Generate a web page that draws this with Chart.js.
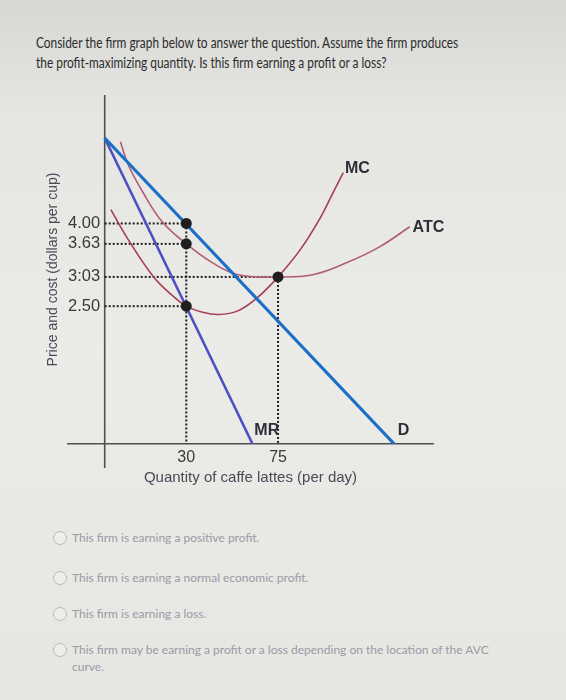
<!DOCTYPE html>
<html>
<head>
<meta charset="utf-8">
<script src="https://cdn.jsdelivr.net/npm/chart.js@4/dist/chart.umd.min.js"></script>
<style>
	html, body { margin: 0; padding: 0; }
	body {
		width: 566px; height: 700px; position: relative; overflow: hidden;
		background: linear-gradient(180deg, #d7d7d4 0%, #e5e5e2 16%, #ebebe8 50%, #e6e6e2 100%);
		font-family: Lato, "Open Sans", sans-serif;
	}
	#question {
		position: absolute; left: 36px; top: 33px; white-space: nowrap;
		font-size: 14.5px; line-height: 19.5px; color: #2b2b2b;
		transform: scaleX(0.82); transform-origin: 0 0;
	}
	#chart-box { position: absolute; left: 0; top: 0; width: 566px; height: 500px; }
	.opt {
		position: absolute; left: 53px; font-size: 12px; line-height: 17px; color: #9a9aa6;
		padding-left: 19px;
	}
	.opt::before {
		content: ""; position: absolute; left: 0; top: 2px; width: 12px; height: 12px;
		border: 1.5px solid #b9b9b9; border-radius: 50%; background: #eeeeec;
	}
</style>
</head>
<body>
<div id="question">Consider the firm graph below to answer the question. Assume the firm produces<br>the profit-maximizing quantity. Is this firm earning a profit or a loss?</div>
<div id="chart-box"><canvas id="firm"></canvas></div>
<div class="opt" style="top:529px">This firm is earning a positive profit.</div>
<div class="opt" style="top:569px">This firm is earning a normal economic profit.</div>
<div class="opt" style="top:605px">This firm is earning a loss.</div>
<div class="opt" style="top:641px; width:418px">This firm may be earning a profit or a loss depending on the location of the AVC curve.</div>
<script>
// values (quantity in cups per day, price in dollars)
const priceTicks = [4.0, 3.63, 3.03, 2.5];
const priceLabels = ["4.00", "3.63", "3:03", "2.50"];
const qtyTicks = [30, 75];
const qtyLabels = ["30", "75"];

const demandQ = [-10, 132];
const demandP = [5.55, 0];
const mrQ = [-10, 62.5];
const mrP = [5.55, 0];

const mcQ = [-7, 2, 14, 23, 30, 38, 46, 55, 65, 75, 86, 96, 102, 107];
const mcP = [4.25, 3.68, 3.03, 2.7, 2.5, 2.39, 2.35, 2.41, 2.66, 3.03, 3.53, 4.12, 4.56, 4.92];
const atcQ = [-2.3, 1.6, 8.5, 18.2, 30, 42.7, 55.4, 75, 92, 108.8, 125, 139.6];
const atcP = [5.48, 5.06, 4.58, 4.03, 3.63, 3.29, 3.07, 3.03, 3.07, 3.29, 3.58, 3.94];

const dotQ = [30, 30, 30, 75];
const dotP = [4.0, 3.63, 2.5, 3.03];

const curveNames = ["MC", "ATC", "MR", "D"];
const nameQ = [107.8, 141, 63.4, 133.7];
const nameP = [4.99, 3.92, 0.24, 0.24];

const yAxisQ = -10;
const qMin = -28, qMax = 151, pMin = 0, pMax = 6.33, pAxisBottom = -0.435;

const pts = (qs, ps) => qs.map((q, i) => ({ x: q, y: ps[i] }));

const dotted = { borderColor: "#1f1f1f", borderWidth: 2, borderDash: [2, 2], pointRadius: 0, showLine: true };

// dotted guides from the y-axis to each point and from the points down to the x-axis
const guides = [];
dotQ.forEach((q, i) => {
	guides.push({ ...dotted, data: [{ x: yAxisQ, y: dotP[i] }, { x: q, y: dotP[i] }] });
});
[0, 3].forEach((i) => {
	guides.push({ ...dotted, data: [{ x: dotQ[i], y: dotP[i] }, { x: dotQ[i], y: 0 }] });
});

const curveLabels = {
	id: "curveLabels",
	afterDatasetsDraw(chart) {
		const { ctx, scales } = chart;
		ctx.save();
		ctx.font = "bold 16px 'Liberation Sans', Arial, sans-serif";
		ctx.fillStyle = "#2e2e38";
		ctx.textBaseline = "middle";
		ctx.textAlign = "left";
		curveNames.forEach((n, i) => {
			ctx.fillText(n, scales.x.getPixelForValue(nameQ[i]), scales.y.getPixelForValue(nameP[i]));
		});
		ctx.restore();
	},
};

new Chart(document.getElementById("firm"), {
	type: "scatter",
	data: {
		datasets: [
			{ data: pts(dotQ, dotP), pointRadius: 5.5, pointBackgroundColor: "#1e1e1e", pointBorderWidth: 0, showLine: false },
			{ data: pts(demandQ, demandP), borderColor: "#1b6fc6", borderWidth: 3.2, pointRadius: 0, showLine: true },
			{ data: pts(mrQ, mrP), borderColor: "#4d50c2", borderWidth: 2.6, pointRadius: 0, showLine: true },
			{ data: pts(mcQ, mcP), borderColor: "#a43f52", borderWidth: 1.6, pointRadius: 0, showLine: true, tension: 0.4 },
			{ data: pts(atcQ, atcP), borderColor: "#b25c74", borderWidth: 1.6, pointRadius: 0, showLine: true, tension: 0.4 },
			...guides,
			{
				data: [{ x: yAxisQ, y: pMax }, { x: yAxisQ, y: pAxisBottom }],
				borderColor: "#505050", borderWidth: 1.6, pointRadius: 0, showLine: true, clip: false,
			},
		],
	},
	options: {
		responsive: true,
		maintainAspectRatio: false,
		animation: false,
		events: [],
		layout: { padding: { left: 41, right: 133, top: 95, bottom: 9 } },
		plugins: { legend: { display: false }, tooltip: { enabled: false } },
		scales: {
			x: {
				type: "linear",
				position: "bottom",
				min: qMin,
				max: qMax,
				afterFit: (s) => { s.height = 47; },
				afterBuildTicks: (s) => { s.ticks = qtyTicks.map((v) => ({ value: v })); },
				ticks: {
					padding: 4,
					color: "#3a3a3a",
					font: { family: "'Liberation Sans', Arial", size: 16 },
					callback: (v) => qtyLabels[qtyTicks.indexOf(v)],
				},
				grid: { display: false, drawTicks: false },
				border: { display: true, color: "#505050", width: 1.6 },
				title: {
					display: true,
					text: "Quantity of caffe lattes (per day)",
					color: "#4a4a58",
					font: { family: "'Liberation Sans', Arial", size: 15 },
					padding: { top: 4, bottom: 4 },
				},
			},
			y: {
				type: "linear",
				position: "left",
				min: pMin,
				max: pMax,
				afterFit: (s) => { s.width = 27; },
				afterBuildTicks: (s) => { s.ticks = priceTicks.map((v) => ({ value: v })); },
				ticks: {
					mirror: true,
					padding: 0,
					color: "#3a3a3a",
					font: { family: "'Liberation Sans', Arial", size: 16.5 },
					callback: (v) => priceLabels[priceTicks.indexOf(v)],
				},
				grid: { display: false, drawTicks: false },
				border: { display: false },
				title: {
					display: true,
					text: "Price and cost (dollars per cup)",
					color: "#4a4a58",
					font: { family: "'Liberation Sans', Arial", size: 14 },
					padding: { top: 4, bottom: 4 },
				},
			},
		},
	},
	plugins: [curveLabels],
});
</script>
</body>
</html>
